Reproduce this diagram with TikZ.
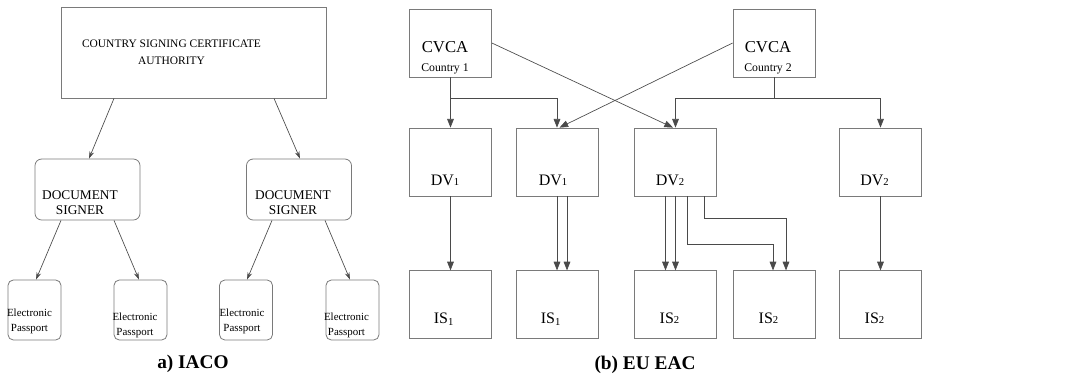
\documentclass[tikz,border=0pt]{standalone}
\usepackage{fontspec}
\setmainfont{Liberation Serif}
\usetikzlibrary{arrows.meta,positioning,calc}
\definecolor{boxgray}{HTML}{7A7A7A}
\definecolor{linegray}{HTML}{4A4A4A}

\begin{document}
\begin{tikzpicture}[x=0.75pt, y=0.75pt,
    rbox/.style={rectangle, draw=boxgray, line width=0.6pt, rounded corners=4pt, inner sep=0pt},
    sqbox/.style={rectangle, draw=boxgray, line width=0.6pt, inner sep=0pt,
                  minimum width=61.5pt, minimum height=51pt},
    dsbox/.style={rbox, minimum width=78.75pt, minimum height=45.75pt, rounded corners=5pt},
    epbox/.style={rbox, minimum width=39.75pt, minimum height=45pt},
    txt/.style={inner sep=0pt, align=center},
    lbl/.style={inner sep=0pt, anchor=base, font=\fontsize{12}{14}\selectfont},
    capt/.style={inner sep=0pt, font=\bfseries\fontsize{14.5}{17}\selectfont},
    larr/.style={-{Stealth[length=5.5pt,width=3.5pt]}, linegray, line width=0.5pt},
    rarr/.style={-{Triangle[length=6.5pt,width=5pt]}, linegray, line width=0.5pt},
    node distance=55.5pt
]
\useasboundingbox (0,0) rectangle (1065,-380);

% a) IACO
\node[rbox, rounded corners=0pt, minimum width=198.75pt, minimum height=68.25pt] (csca) at (193.5,-52.5) {};
\node[txt, font=\fontsize{8.6}{12.75}\selectfont] (csca-t) at (171.5,-52.5) {COUNTRY SIGNING CERTIFICATE\\AUTHORITY};
\node[dsbox] (ds1) at (87.5,-189.5) {};
\node[dsbox] (ds2) at (299,-189.5) {};
\node[txt, font=\fontsize{10}{11.25}\selectfont] (ds1-t) at (80,-202.5) {DOCUMENT\\SIGNER};
\node[txt, font=\fontsize{10}{11.25}\selectfont] (ds2-t) at (293,-202.5) {DOCUMENT\\SIGNER};
\node[epbox] (ep1) at (34.5,-310) {};
\node[epbox] (ep2) at (140.5,-310) {};
\node[epbox] (ep3) at (246,-310) {};
\node[epbox] (ep4) at (352.5,-310) {};
\node[txt, font=\fontsize{8.2}{11.25}\selectfont] (ep1-t) at (29.5,-321.5) {Electronic\\Passport};
\node[txt, font=\fontsize{8.2}{11.25}\selectfont] (ep2-t) at (135,-325) {Electronic\\Passport};
\node[txt, font=\fontsize{8.2}{11.25}\selectfont] (ep3-t) at (242,-321.5) {Electronic\\Passport};
\node[txt, font=\fontsize{8.2}{11.25}\selectfont] (ep4-t) at (346.5,-325) {Electronic\\Passport};

\draw[larr] ($(csca.south)+(-79.5,0)$) -- ($(ds1.north)+(1.5,0)$);
\draw[larr] ($(csca.south)+(80.5,0)$) -- ($(ds2.north)+(1,0)$);
\draw[larr] ($(ds1.south)+(-26.5,0)$) -- ($(ep1.north)+(1.5,0)$);
\draw[larr] ($(ds1.south)+(26.5,0)$) -- ($(ep2.north)+(-1.5,0)$);
\draw[larr] ($(ds2.south)+(-27,0)$) -- ($(ep3.north)+(1,0)$);
\draw[larr] ($(ds2.south)+(26,0)$) -- ($(ep4.north)+(-2.5,0)$);

\node[capt] (capa) at (193,-364) {a) IACO};

% (b) EU EAC
\node[sqbox] (cv1) at (450.5,-43) {};
\node[sqbox] (cv2) at (774,-43) {};
\node[txt, font=\fontsize{8.8}{14}\selectfont] (cv1-t) at (445,-58) {{\fontsize{12.5}{14}\selectfont CVCA}\\Country 1};
\node[txt, font=\fontsize{8.8}{14}\selectfont] (cv2-t) at (768,-58) {{\fontsize{12.5}{14}\selectfont CVCA}\\Country 2};

\node[sqbox] (dv1a) at (450.5,-162) {};
\node[sqbox] (dv1b) at (557,-162) {};
\node[sqbox] (dv2a) at (675.5,-162) {};
\node[sqbox] (dv2b) at (880.5,-162) {};
\node[lbl] (dv1a-t) at (445,-185) {DV{\fontsize{8}{9}\selectfont 1}};
\node[lbl] (dv1b-t) at (553,-185) {DV{\fontsize{8}{9}\selectfont 1}};
\node[lbl] (dv2a-t) at (670,-185) {DV{\fontsize{8}{9}\selectfont 2}};
\node[lbl] (dv2b-t) at (874.5,-185) {DV{\fontsize{8}{9}\selectfont 2}};

\node[sqbox, below=of dv1a] (is1a) {};
\node[sqbox, below=of dv1b] (is1b) {};
\node[sqbox, below=of dv2a] (is2a) {};
\node[sqbox] (is2b) at (cv2 |- is2a) {};
\node[sqbox, below=of dv2b] (is2c) {};
\node[lbl] (is1a-t) at (444,-323) {IS\textsubscript{1}};
\node[lbl] (is1b-t) at (551,-323) {IS\textsubscript{1}};
\node[lbl] (is2a-t) at (669.5,-323) {IS{\fontsize{8}{9}\selectfont 2}};
\node[lbl] (is2b-t) at (768.5,-323) {IS{\fontsize{8}{9}\selectfont 2}};
\node[lbl] (is2c-t) at (874.5,-323) {IS{\fontsize{8}{9}\selectfont 2}};

\draw[rarr] (cv1) -- (dv1a);
\draw[rarr] (cv1.south) |- ($(dv1b.north)+(0,29)$) -- (dv1b.north);
\draw[rarr] (cv1.east) -- ($(dv2a.north)+(-2.5,0)$);
\draw[rarr] (cv2.west) -- ($(dv1b.north)+(2.5,0)$);
\draw[rarr] (cv2.south) |- ($(dv2a.north)+(0,29)$) -- (dv2a.north);
\draw[rarr] (cv2.south) |- ($(dv2b.north)+(0,29)$) -- (dv2b.north);

\draw[rarr] (dv1a) -- (is1a);
\draw[rarr] (dv1b) -- (is1b);
\draw[rarr] ($(dv1b.south)+(10,0)$) -- ($(is1b.north)+(10,0)$);
\draw[rarr] ($(dv2a.south)+(-10,0)$) -- ($(is2a.north)+(-10,0)$);
\draw[rarr] (dv2a) -- (is2a);
\draw[rarr] ($(dv2a.south)+(11.5,0)$) |- ($(is2b.north)+(-1,26)$) -- ($(is2b.north)+(-1,0)$);
\draw[rarr] ($(dv2a.south)+(28.5,0)$) |- ($(is2b.north)+(12,52)$) -- ($(is2b.north)+(12,0)$);
\draw[rarr] (dv2b) -- (is2c);

\node[capt] (capb) at (645,-365) {(b) EU EAC};
\end{tikzpicture}
\end{document}
